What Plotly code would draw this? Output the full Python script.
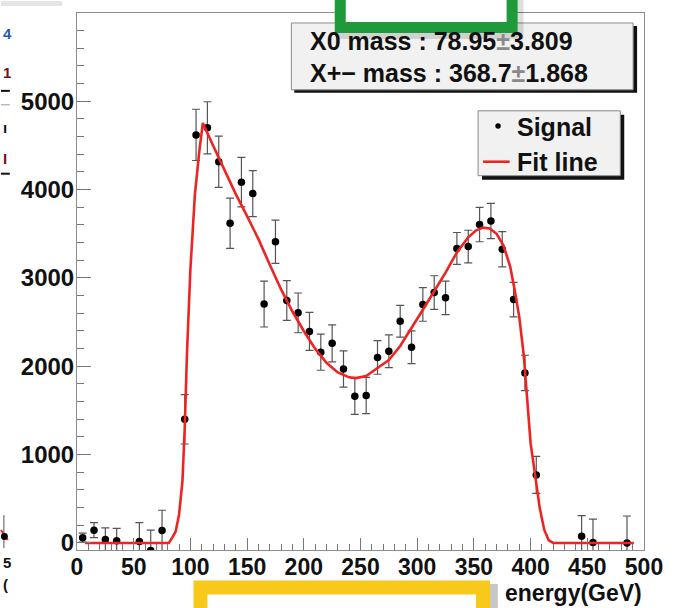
import plotly.graph_objects as go

# Histogram bins (GeV) and contents with their uncertainties
bin_centers = [5, 15, 25, 35, 55, 65, 75, 95, 105, 115, 125, 135, 145, 155, 165,
               175, 185, 195, 205, 215, 225, 235, 245, 255, 265, 275, 285, 295,
               305, 315, 325, 335, 345, 355, 365, 375, 385, 395, 405, 445, 455, 485]
signal = [60, 145, 40, 25, 15, -85, 140, 1400, 4620, 4700, 4315, 3620, 4085, 3955,
          2705, 3410, 2745, 2605, 2395, 2160, 2260, 1970, 1660, 1670, 2100, 2170,
          2510, 2215, 2700, 2835, 2775, 3335, 3355, 3605, 3645, 3325, 2755, 1925,
          770, 75, 5, 0]
signal_err = [50, 85, 130, 140, 215, 230, 230, 280, 290, 295, 290, 285, 280, 260,
              260, 245, 225, 225, 215, 205, 210, 205, 205, 205, 190, 185, 180, 185,
              190, 190, 190, 180, 185, 195, 200, 200, 195, 200, 210, 235, 265, 305]

# Fitted curve, sampled along the energy axis
fit_x = [7, 81, 84, 87, 90, 93, 95, 97, 100, 104, 108, 111, 120, 130, 140, 150, 160,
         170, 180, 190, 200, 210, 220, 230, 240, 246, 255, 265, 275, 285, 295, 305,
         315, 325, 335, 345, 352, 358, 364, 370, 376, 382, 386, 390, 394, 397, 400,
         404, 408, 412, 416, 420, 491]
fit_y = [0, 0, 60, 130, 320, 700, 1300, 2150, 3100, 3950, 4450, 4755, 4500, 4230,
         3950, 3700, 3440, 3150, 2870, 2620, 2400, 2200, 2040, 1930, 1875, 1866, 1890,
         1980, 2070, 2230, 2430, 2640, 2850, 3060, 3290, 3460, 3540, 3570, 3560, 3500,
         3370, 3130, 2860, 2560, 2120, 1650, 1130, 767, 400, 150, 30, 0, 0]

stats_lines = ["X0 mass : 78.95<span style='color:#8a8a8a'>±</span>3.809",
               "X+− mass : 368.7<span style='color:#8a8a8a'>±</span>1.868"]
legend_labels = ["Signal", "Fit line"]
x_title = "energy(GeV)"

W, H = 675, 608
L, R, T, B = 77, 24, 12, 58
PW, PH = W - L - R, H - T - B
FONT = "Liberation Sans, Arial, sans-serif"
SIG_COLOR, FIT_COLOR = "black", "#ee2424"


def px(x):
    return (x - L) / PW


def py(y):
    return (H - B - y) / PH


def rect(x0, y0, x1, y1, **kw):
    return dict(type="rect", xref="paper", yref="paper",
                x0=px(x0), x1=px(x1), y0=py(y0), y1=py(y1), **kw)


def text(t, x, y, size=25, color="#111111", xanchor="left", yanchor="middle"):
    return dict(text=t, xref="paper", yref="paper", x=px(x), y=py(y),
                xanchor=xanchor, yanchor=yanchor, showarrow=False,
                font=dict(family=FONT, size=size, color=color, weight="bold"))


fig = go.Figure()
fig.add_trace(go.Scatter(
    x=bin_centers, y=signal, mode="markers", name=legend_labels[0],
    marker=dict(color=SIG_COLOR, size=7.5),
    error_y=dict(type="data", array=signal_err, color="#555555", thickness=1.2, width=4),
))
fig.add_trace(go.Scatter(
    x=fit_x, y=fit_y, mode="lines", name=legend_labels[1],
    line=dict(color=FIT_COLOR, width=2.6),
))

axis_common = dict(
    showline=True, linecolor="#8c8c8c", linewidth=1, mirror=True,
    showgrid=False, zeroline=False, ticks="inside", tickcolor="#777777",
)
tick_font = dict(family=FONT, size=24, color="#111111", weight="bold")
fig.update_xaxes(range=[0, 500], dtick=50, tick0=0, ticklen=12, ticklabelstandoff=-4,
                 tickfont=dict(tick_font, size=23),
                 minor=dict(dtick=10, ticklen=6, ticks="inside", tickcolor="#777777"),
                 **axis_common)
fig.update_yaxes(range=[-80, 6000], dtick=1000, tick0=0, ticklen=14, ticklabelstandoff=-3,
                 tickfont=tick_font,
                 minor=dict(dtick=200, ticklen=7, ticks="inside", tickcolor="#777777"),
                 **axis_common)

shapes = [
    # statistics box with drop shadow
    rect(297, 25, 644, 92, fillcolor="#111111", line=dict(width=0)),
    rect(294, 22, 640, 89, fillcolor="#f1f1f1", line=dict(color="#8a8a8a", width=1)),
    # legend box with drop shadow
    rect(487, 114, 631, 179, fillcolor="#111111", line=dict(width=0)),
    rect(483, 110, 627, 175, fillcolor="#f1f1f1", line=dict(color="#8a8a8a", width=1)),
    dict(type="circle", xref="paper", yref="paper", x0=px(500.5), x1=px(506),
         y0=py(122.5), y1=py(128), fillcolor=SIG_COLOR, line=dict(width=0)),
    dict(type="line", xref="paper", yref="paper", x0=px(488), x1=px(515),
         y0=py(161), y1=py(161), line=dict(color=FIT_COLOR, width=2.6)),
    # green frame at the top, with soft shadow
    rect(341, -5, 529, 38, fillcolor="rgba(0,0,0,0.13)", line=dict(width=0)),
    rect(343.5, -12, 517.5, 26.5, fillcolor="white", line=dict(color="#1f9a3b", width=11)),
    # yellow frame at the bottom, with shadow
    rect(494, 584, 503, 612, fillcolor="rgba(0,0,0,0.22)", line=dict(width=0)),
    rect(202, 587.5, 488, 630, fillcolor="white", line=dict(color="#f8c81a", width=14)),
    # edge of the neighbouring panel on the left
    rect(0, 0, 62, 5, fillcolor="rgba(0,0,0,0.10)", line=dict(width=0)),
    dict(type="line", xref="paper", yref="paper", x0=px(0), x1=px(9),
         y0=py(90), y1=py(90), line=dict(color="#111111", width=2)),
    dict(type="line", xref="paper", yref="paper", x0=px(0), x1=px(9),
         y0=py(104), y1=py(104), line=dict(color="#999999", width=1)),
    dict(type="line", xref="paper", yref="paper", x0=px(0), x1=px(9),
         y0=py(173), y1=py(173), line=dict(color="#111111", width=2)),
    dict(type="line", xref="paper", yref="paper", x0=px(3), x1=px(3),
         y0=py(515), y1=py(548), line=dict(color="#555555", width=1)),
    dict(type="line", xref="paper", yref="paper", x0=px(0), x1=px(7),
         y0=py(530), y1=py(540), line=dict(color=FIT_COLOR, width=2)),
    dict(type="circle", xref="paper", yref="paper", x0=px(0), x1=px(7),
         y0=py(533), y1=py(540), fillcolor="black", line=dict(width=0)),
]

annotations = [text(t, 311, 40 + 32 * i) for i, t in enumerate(stats_lines)]
annotations += [text(legend_labels[0], 520, 126), text(legend_labels[1], 520, 161)]
annotations.append(dict(text=x_title, xref="paper", yref="paper", x=1.0, y=py(608),
                        xanchor="right", yanchor="bottom", showarrow=False,
                        font=dict(family=FONT, size=23, color="#111111", weight="bold")))
# glyphs of the neighbouring panel at the left edge
for t, yy, col in [("4", 33, "#2a5aa8"), ("1", 72, "#7a1010"), ("ı", 127, "#111111"),
                   ("I", 158, "#7a1010"), ("5", 563, "#111111"), ("(", 585, "#111111")]:
    annotations.append(text(t, 0, yy, size=15, color=col))

fig.update_layout(
    width=W, height=H, margin=dict(l=L, r=R, t=T, b=B),
    paper_bgcolor="white", plot_bgcolor="white",
    shapes=shapes, annotations=annotations, showlegend=False,
)

fig.write_html("out.html")
